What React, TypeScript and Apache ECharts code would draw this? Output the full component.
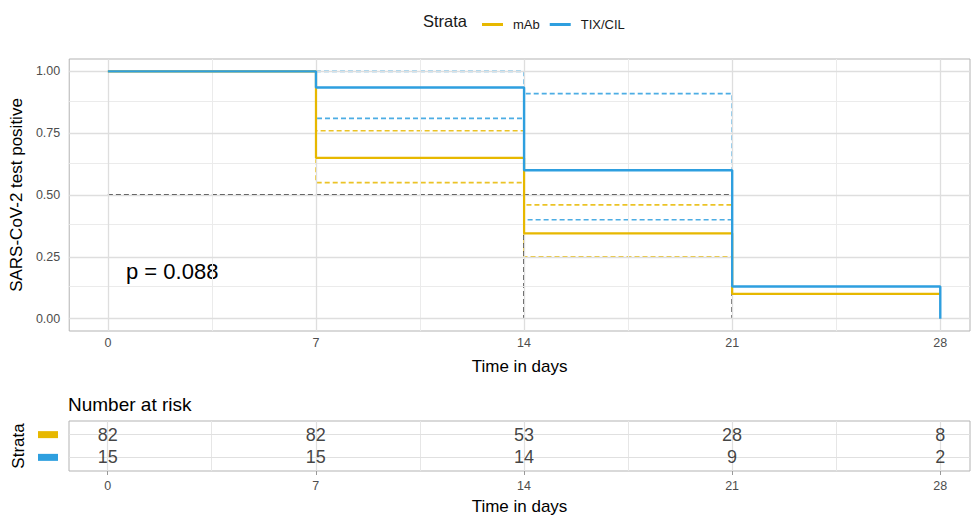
import React, { useEffect, useRef } from "react";
import * as echarts from "echarts";

// ---- data ----
const strata = ["mAb", "TIX/CIL"];
const colors = ["#E7B800", "#2E9FDF"];
const times = [0, 7, 14, 21, 28];
const survMab = [1, 0.65, 0.345, 0.1, 0.1];
const survTix = [1, 0.935, 0.6, 0.13, 0];
const ciTimes = [7, 14, 21];
const upperMab = [0.76, 0.46];
const lowerMab = [0.55, 0.25];
const upperTix = [1.0, 0.91];
const lowerTix = [0.81, 0.4];
const medianLevel = 0.5;
const medianTimes = [14, 21];
const pText = "p = 0.088";
const xTicks = [0, 7, 14, 21, 28];
const xMinor = [3.5, 10.5, 17.5, 24.5];
const yTicks = [0, 0.25, 0.5, 0.75, 1];
const yMinor = [0.125, 0.375, 0.625, 0.875];
const riskTimes = [0, 7, 14, 21, 28];
const riskMab = [82, 82, 53, 28, 8];
const riskTix = [15, 15, 14, 9, 2];

const FONT = "'Liberation Sans', Arial, sans-serif";

function stepData(ts: number[], ss: number[]) {
  const out: number[][] = [];
  for (let i = 0; i < ts.length - 1; i++) {
    out.push([ts[i], ss[i]]);
    out.push([ts[i + 1], ss[i]]);
  }
  out.push([ts[ts.length - 1], ss[ss.length - 1]]);
  return out;
}

function ciData(vals: number[], endVal: number) {
  const out: number[][] = [[ciTimes[0], 1]];
  for (let i = 0; i < vals.length; i++) {
    out.push([ciTimes[i], vals[i]]);
    out.push([ciTimes[i + 1], vals[i]]);
  }
  out.push([ciTimes[ciTimes.length - 1], endVal]);
  return out;
}

function gridSeries(xi: number, xs: number[], ys: number[], color: string, width: number) {
  return {
    type: "line",
    xAxisIndex: xi,
    yAxisIndex: xi,
    data: [],
    silent: true,
    z: 1,
    markLine: {
      silent: true,
      symbol: ["none", "none"],
      label: { show: false },
      emphasis: { disabled: true },
      lineStyle: { color, width, type: "solid" },
      data: [...xs.map((v) => ({ xAxis: v })), ...ys.map((v) => ({ yAxis: v }))],
    },
  };
}

export default function App() {
  const ref = useRef<HTMLDivElement>(null);
  useEffect(() => {
    if (!ref.current) return;
    const chart = echarts.init(ref.current, undefined, { renderer: "svg" });
    const idx21 = times.indexOf(ciTimes[ciTimes.length - 1]);
    const series: any[] = [
      gridSeries(0, xMinor, yMinor, "#EBEBEB", 1),
      gridSeries(0, xTicks, yTicks, "#DEDEDE", 1.3),
      gridSeries(1, [...xMinor], [], "#E6E6E6", 1),
      gridSeries(1, [...riskTimes], [1, 2], "#E0E0E0", 1.2),
    ];
    const ciSets = [
      [upperMab, survMab, 0],
      [lowerMab, survMab, 0],
      [upperTix, survTix, 1],
      [lowerTix, survTix, 1],
    ] as [number[], number[], number][];
    ciSets.forEach(([vals, surv, k], i) => {
      series.push({
        type: "line",
        name: strata[k] + " CI " + i,
        xAxisIndex: 0,
        yAxisIndex: 0,
        data: ciData(vals, surv[idx21]),
        symbol: "none",
        silent: true,
        z: 3,
        lineStyle: { color: colors[k], width: 1.6, type: [5, 3], opacity: 0.85 },
      });
    });
    const medSegs = [
      [[times[0], medianLevel], [medianTimes[medianTimes.length - 1], medianLevel]],
      ...medianTimes.map((t) => [[t, medianLevel], [t, 0]]),
    ];
    medSegs.forEach((d, i) => {
      series.push({
        type: "line",
        name: "median" + i,
        xAxisIndex: 0,
        yAxisIndex: 0,
        data: d,
        symbol: "none",
        silent: true,
        z: 4,
        lineStyle: { color: "#000", width: 1.4, type: [5, 3], opacity: 1 },
      });
    });
    [survMab, survTix].forEach((s, k) => {
      series.push({
        type: "line",
        name: strata[k],
        color: colors[k],
        xAxisIndex: 0,
        yAxisIndex: 0,
        data: stepData(times, s),
        symbol: "none",
        z: 5,
        lineStyle: { color: colors[k], width: k === 1 ? 2.4 : 2.2 },
      });
    });
    [riskMab, riskTix].forEach((r, k) => {
      series.push({
        type: "scatter",
        name: "risk" + k,
        xAxisIndex: 1,
        yAxisIndex: 1,
        symbolSize: 1,
        itemStyle: { color: "rgba(0,0,0,0)" },
        z: 5,
        data: riskTimes.map((t, i) => [t, 2 - k, r[i]]),
        label: {
          show: true,
          position: "inside",
          formatter: (p: any) => String(p.value[2]),
          fontSize: 18,
          color: "#111",
          fontFamily: FONT,
        },
      });
    });

    const tickLabel = { color: "#4D4D4D", fontSize: 12.5, fontFamily: FONT };
    chart.setOption({
      animation: false,
      textStyle: { fontFamily: FONT },
      title: {
        text: "Number at risk",
        left: 63,
        top: 390,
        textStyle: { fontSize: 19, fontWeight: "normal", color: "#000", fontFamily: FONT },
      },
      legend: {
        data: strata,
        left: 477,
        top: 13,
        icon: "rect",
        itemWidth: 21,
        itemHeight: 3,
        itemGap: 10,
        textStyle: { fontSize: 13, color: "#1a1a1a", fontFamily: FONT, padding: [0, 0, 0, 5] },
      },
      graphic: [
        {
          type: "text",
          left: 423,
          top: 12,
          style: { text: "Strata", fontSize: 16.5, fill: "#1a1a1a", fontFamily: FONT },
        },
        {
          type: "text",
          left: 126,
          top: 260,
          style: { text: pText, fontSize: 22, fill: "#000", fontFamily: FONT },
        },
      ],
      grid: [
        { left: 69, right: 1, top: 59, height: 272, show: true, borderColor: "#B3B3B3", borderWidth: 1, backgroundColor: "transparent" },
        { left: 69, right: 1, top: 421, height: 51, show: true, borderColor: "#B3B3B3", borderWidth: 1, backgroundColor: "transparent" },
      ],
      xAxis: [
        {
          type: "value",
          gridIndex: 0,
          min: -1.3,
          max: 29,
          name: "Time in days",
          nameLocation: "middle",
          nameGap: 27,
          nameTextStyle: { fontSize: 17, color: "#000", fontFamily: FONT },
          axisLine: { show: false },
          splitLine: { show: false },
          axisTick: { show: true, customValues: xTicks, length: 4, lineStyle: { color: "#333" } },
          axisLabel: { ...tickLabel, margin: 5, customValues: xTicks, formatter: (v: number) => String(v) },
        },
        {
          type: "value",
          gridIndex: 1,
          min: -1.3,
          max: 29,
          name: "Time in days",
          nameLocation: "middle",
          nameGap: 27,
          nameTextStyle: { fontSize: 17, color: "#000", fontFamily: FONT },
          axisLine: { show: false },
          splitLine: { show: false },
          axisTick: { show: true, customValues: riskTimes, length: 4, lineStyle: { color: "#999" } },
          axisLabel: { ...tickLabel, margin: 8, customValues: riskTimes, formatter: (v: number) => String(v) },
        },
      ],
      yAxis: [
        {
          type: "value",
          gridIndex: 0,
          min: -0.05,
          max: 1.05,
          name: "SARS-CoV-2 test positive",
          nameLocation: "middle",
          nameGap: 42,
          nameRotate: 90,
          nameTextStyle: { fontSize: 17, color: "#000", fontFamily: FONT },
          axisLine: { show: false },
          splitLine: { show: false },
          axisTick: { show: true, customValues: yTicks, length: 4, lineStyle: { color: "#333" } },
          axisLabel: { ...tickLabel, margin: 9, customValues: yTicks, formatter: (v: number) => v.toFixed(2) },
        },
        {
          type: "value",
          gridIndex: 1,
          min: 0.4,
          max: 2.6,
          name: "Strata",
          nameLocation: "middle",
          nameGap: 40,
          nameRotate: 90,
          nameTextStyle: { fontSize: 17, color: "#000", fontFamily: FONT },
          axisLine: { show: false },
          splitLine: { show: false },
          axisTick: { show: false },
          axisLabel: {
            margin: 11,
            customValues: [1, 2],
            formatter: (v: number) => (v === 2 ? "{m|}" : "{t|}"),
            rich: {
              m: { backgroundColor: colors[0], width: 20, height: 7 },
              t: { backgroundColor: colors[1], width: 20, height: 7 },
            },
          },
        },
      ],
      series,
    });
    return () => chart.dispose();
  }, []);
  return <div ref={ref} style={{ width: 971, height: 516, position: "absolute", left: 0, top: 0, background: "#fff" }} />;
}
